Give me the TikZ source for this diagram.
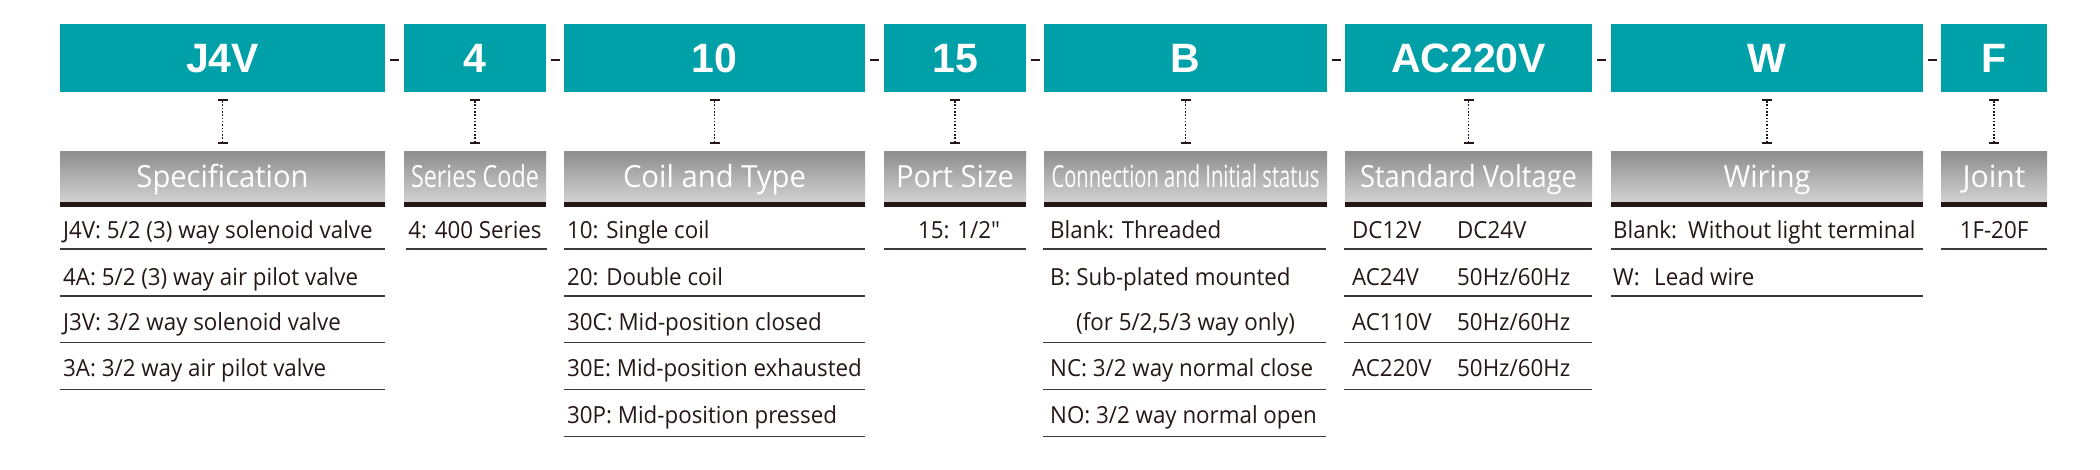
\documentclass[tikz,border=0pt]{standalone}
\usepackage{fontspec}
\usepackage{graphicx}
\usetikzlibrary{calc}
\setmainfont{Open Sans}[FakeStretch=0.95]
\newfontfamily\codefont{Liberation Sans}
\definecolor{tealc}{HTML}{00A0A9}
\definecolor{grayA}{HTML}{8E8E8E}
\definecolor{grayB}{HTML}{D2D2D2}
\definecolor{txtc}{HTML}{231815}
\definecolor{linec}{HTML}{3E3A39}
\tikzset{
  codebox/.style={fill=tealc, inner sep=0pt, text=white,
    font=\codefont\bfseries\fontsize{41}{41}\selectfont,
    text height=29.5pt, text depth=0pt, minimum height=68pt},
  hdrbox/.style={top color=grayA, bottom color=grayB, inner sep=0pt, text=white,
    font=\fontsize{30.5}{30.5}\selectfont, text height=21.8pt, text depth=0pt,
    minimum height=50pt},
  bodytxt/.style={anchor=base west, inner sep=0pt, text=txtc,
    font=\fontsize{23.5}{23.5}\selectfont},
  bodyc/.style={bodytxt, anchor=base},
  rowrule/.style={draw=linec, line width=1.2pt},
  hbar/.style={draw=txtc, line width=5pt},
  capline/.style={draw=txtc, line width=2.2pt},
  dotline/.style={draw=txtc, line width=1.5pt, dash pattern=on 1.5pt off 1.8pt},
  sepdash/.style={draw=txtc, line width=2.2pt}
}
% #1 index, #2 left, #3 right, #4 code, #5 header, #6 header width
\newcommand\mkcol[6]{%
  \node[codebox, minimum width={(#3-#2)*1pt}] (t#1) at ({(#2+#3)/2},58) {#4};
  \node[hdrbox, minimum width={(#3-#2)*1pt}] (h#1) at ({(#2+#3)/2},177)
     {\resizebox{#6pt}{\height}{#5}};
  \draw[hbar] ([yshift=-2.5pt]h#1.south west) -- ([yshift=-2.5pt]h#1.south east);
  \draw[dotline] ([yshift=-9pt]t#1.south) -- ([yshift=10pt]h#1.north);
  \draw[capline] ([xshift=-5pt,yshift=-8pt]t#1.south) -- ([xshift=5pt,yshift=-8pt]t#1.south);
  \draw[capline] ([xshift=-5pt,yshift=9pt]h#1.north) -- ([xshift=5pt,yshift=9pt]h#1.north);
}
\newcommand\sepd[2]{%
  \draw[sepdash] ($(t#1.east)!0.5!(t#2.west)$) +(-4.5,2) -- +(4.5,2);
}
\begin{document}
\begin{tikzpicture}[x=1pt,y=-1pt]
\useasboundingbox (0,0) rectangle (2100,470);
\fill[white] (0,0) rectangle (2100,470);

\mkcol{1}{60}{385}{J4V}{Specification}{172}
\mkcol{2}{404}{546}{4}{Series Code}{128}
\mkcol{3}{564}{865}{10}{Coil and Type}{183}
\mkcol{4}{884}{1026}{15}{Port Size}{118}
\mkcol{5}{1044}{1327}{B}{Connection and Initial status}{268}
\mkcol{6}{1345}{1592}{AC220V}{Standard Voltage}{217}
\mkcol{7}{1611}{1923}{W}{Wiring}{87}
\mkcol{8}{1941}{2047}{F}{Joint}{63}

\sepd{1}{2}\sepd{2}{3}\sepd{3}{4}\sepd{4}{5}\sepd{5}{6}\sepd{6}{7}\sepd{7}{8}

% column 1
\node[bodytxt] (a1) at (63,238.3) {J4V: 5/2 (3) way solenoid valve};
\node[bodytxt] (a2) at (63,285) {4A: 5/2 (3) way air pilot valve};
\node[bodytxt] (a3) at (63,330) {J3V: 3/2 way solenoid valve};
\node[bodytxt] (a4) at (63,376) {3A: 3/2 way air pilot valve};
\foreach \y in {249,296,342.8,389.5} \draw[rowrule] (60,\y) -- (385,\y);

% column 2
\node[bodyc] (b1) at (475,238.3) {4: 400 Series};
\draw[rowrule] (406,249) -- (547,249);

% column 3
\node[bodytxt] (c1) at (567,238.3) {10: Single coil};
\node[bodytxt] (c2) at (567,285) {20: Double coil};
\node[bodytxt] (c3) at (567,330) {30C: Mid-position closed};
\node[bodytxt] (c4) at (567,376) {30E: Mid-position exhausted};
\node[bodytxt] (c5) at (567,423.3) {30P: Mid-position pressed};
\foreach \y in {249,296,342.8,389.5,436.3} \draw[rowrule] (564,\y) -- (865,\y);

% column 4
\node[bodyc] (d1) at (959,238.3) {15: 1/2″};
\draw[rowrule] (884,249) -- (1026,249);

% column 5
\node[bodytxt] (e1) at (1050,238.3) {Blank: Threaded};
\node[bodytxt] (e2) at (1050,285) {B: Sub-plated mounted};
\node[bodytxt] (e3) at (1076,330) {(for 5/2,5/3 way only)};
\node[bodytxt] (e4) at (1050,376) {NC: 3/2 way normal close};
\node[bodytxt] (e5) at (1050,423.3) {NO: 3/2 way normal open};
\foreach \y in {249,342.8,389.5,436.3} \draw[rowrule] (1043,\y) -- (1326,\y);

% column 6
\node[bodytxt] (f1) at (1352,238.3) {DC12V};
\node[bodytxt] (f1b) at (1457,238.3) {DC24V};
\node[bodytxt] (f2) at (1352,285) {AC24V};
\node[bodytxt] (f2b) at (1457,285) {50Hz/60Hz};
\node[bodytxt] (f3) at (1352,330) {AC110V};
\node[bodytxt] (f3b) at (1457,330) {50Hz/60Hz};
\node[bodytxt] (f4) at (1352,376) {AC220V};
\node[bodytxt] (f4b) at (1457,376) {50Hz/60Hz};
\foreach \y in {249,296,342.8,389.5} \draw[rowrule] (1344,\y) -- (1592,\y);

% column 7
\node[bodytxt] (g1) at (1613,238.3) {Blank:};
\node[bodytxt] (g1b) at (1688,238.3) {Without light terminal};
\node[bodytxt] (g2) at (1613,285) {W:};
\node[bodytxt] (g2b) at (1654,285) {Lead wire};
\foreach \y in {249,296} \draw[rowrule] (1611,\y) -- (1923,\y);

% column 8
\node[bodyc] (k1) at (1994,238.3) {1F-20F};
\draw[rowrule] (1941,249) -- (2047,249);
\end{tikzpicture}
\end{document}
